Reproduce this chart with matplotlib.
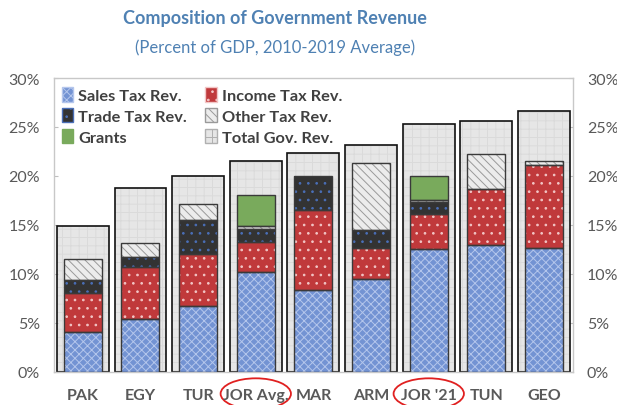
import matplotlib.pyplot as plt
import numpy as np
from matplotlib.patches import Patch, Ellipse
import matplotlib.transforms as mtransforms

plt.rcParams['font.family'] = ['Lato', 'DejaVu Sans']
plt.rcParams['hatch.linewidth'] = 0.7

# Revenue components, percent of GDP
countries = ['PAK', 'EGY', 'TUR', 'JOR Avg.', 'MAR', 'ARM', "JOR '21", 'TUN', 'GEO']
sales_tax = [4.1, 5.4, 6.7, 10.2, 8.3, 9.5, 12.5, 12.9, 12.6]
income_tax = [3.9, 5.3, 5.3, 3.1, 8.2, 3.1, 3.6, 5.8, 8.5]
trade_tax = [1.4, 1.0, 3.5, 1.3, 3.5, 1.9, 1.2, 0.0, 0.0]
other_tax = [2.1, 1.4, 1.6, 0.25, 0.0, 6.8, 0.2, 3.5, 0.4]
grants = [0.0, 0.0, 0.0, 3.15, 0.0, 0.0, 2.5, 0.0, 0.0]
total_rev = [14.9, 18.8, 20.0, 21.5, 22.3, 23.2, 25.3, 25.6, 26.6]
highlighted = ['JOR Avg.', "JOR '21"]

blue_title = '#4f81b3'
text_grey = '#595959'

# (label, values, face, hatch, hatch colour)
layers = [
    ('Sales Tax Rev.', sales_tax, '#7393d3', 'xxxx', '#b4c6ec'),
    ('Income Tax Rev.', income_tax, '#c0393b', '..', '#f2c6c6'),
    ('Trade Tax Rev.', trade_tax, '#333333', '..', '#4a6fb8'),
    ('Other Tax Rev.', other_tax, '#ececec', '\\\\\\\\', '#9a9a9a'),
    ('Grants', grants, '#79aa5c', '', '#79aa5c'),
]

fig = plt.figure(figsize=(6.17, 4.06), dpi=100)
ax = fig.add_axes([0.0875, 0.082, 0.841, 0.7234])

x = np.arange(len(countries))

# wide background bars for total revenue
ax.bar(x, total_rev, width=0.9, color='#e6e6e6', hatch='++', edgecolor='#dadada',
       linewidth=0, zorder=1)
ax.bar(x, total_rev, width=0.9, fill=False, edgecolor='#111111', linewidth=1.2, zorder=2)

bottom = np.zeros(len(countries))
for label, vals, face, hatch, hcol in layers:
    vals = np.array(vals)
    mask = vals > 0
    ax.bar(x[mask], vals[mask], width=0.66, bottom=bottom[mask], color=face,
           hatch=hatch, edgecolor=hcol, linewidth=0, zorder=3)
    ax.bar(x[mask], vals[mask], width=0.66, bottom=bottom[mask], fill=False,
           edgecolor='#3a3a3a', linewidth=1.0, zorder=4)
    bottom += vals

ax.set_xlim(-0.5, len(countries) - 0.5)
ax.set_ylim(0, 30)
ax.set_yticks(np.arange(0, 31, 5))
ax.set_yticklabels([f'{v}%' for v in range(0, 31, 5)])
ax.set_xticks(x)
ax.set_xticklabels(countries, fontweight='bold')
ax.tick_params(axis='y', direction='in', length=3, color='#bfbfbf', labelsize=11.5,
               labelcolor=text_grey, left=True, right=True, labelleft=True,
               labelright=True, pad=10)
ax.tick_params(axis='x', length=0, labelsize=11.5, labelcolor=text_grey, pad=12)
for s in ax.spines.values():
    s.set_color('#c8c8c8')
    s.set_linewidth(1.0)

# legend
handles = []
for label, vals, face, hatch, hcol in layers:
    handles.append(Patch(facecolor=face, hatch=hatch, edgecolor=hcol, label=label))
handles.append(Patch(facecolor='#e6e6e6', hatch='++', edgecolor='#b0b0b0',
                     label='Total Gov. Rev.'))
order = [0, 2, 4, 1, 3, 5]
leg = ax.legend([handles[i] for i in order], [handles[i].get_label() for i in order],
                ncol=2, loc='upper left', bbox_to_anchor=(-0.013, 1.02), frameon=False,
                handlelength=0.7, handleheight=1.0, handletextpad=0.3,
                columnspacing=1.1, labelspacing=0.3,
                prop={'weight': 'bold', 'size': 11.8})
for t in leg.get_texts():
    t.set_color('#404040')

# circle the Jordan labels
trans = mtransforms.blended_transform_factory(ax.transData, ax.transAxes)
for name in highlighted:
    i = countries.index(name)
    e = Ellipse((i, -0.075), width=1.22, height=0.105, transform=trans, fill=False,
                edgecolor='#e02020', linewidth=1.3, clip_on=False)
    ax.add_patch(e)

fig.text(0.446, 0.955, 'Composition of Government Revenue', ha='center', va='center',
         fontsize=13, fontweight='bold', color=blue_title)
fig.text(0.446, 0.882, '(Percent of GDP, 2010-2019 Average)', ha='center', va='center',
         fontsize=12, color=blue_title)

fig.savefig('out.png', dpi=100)
